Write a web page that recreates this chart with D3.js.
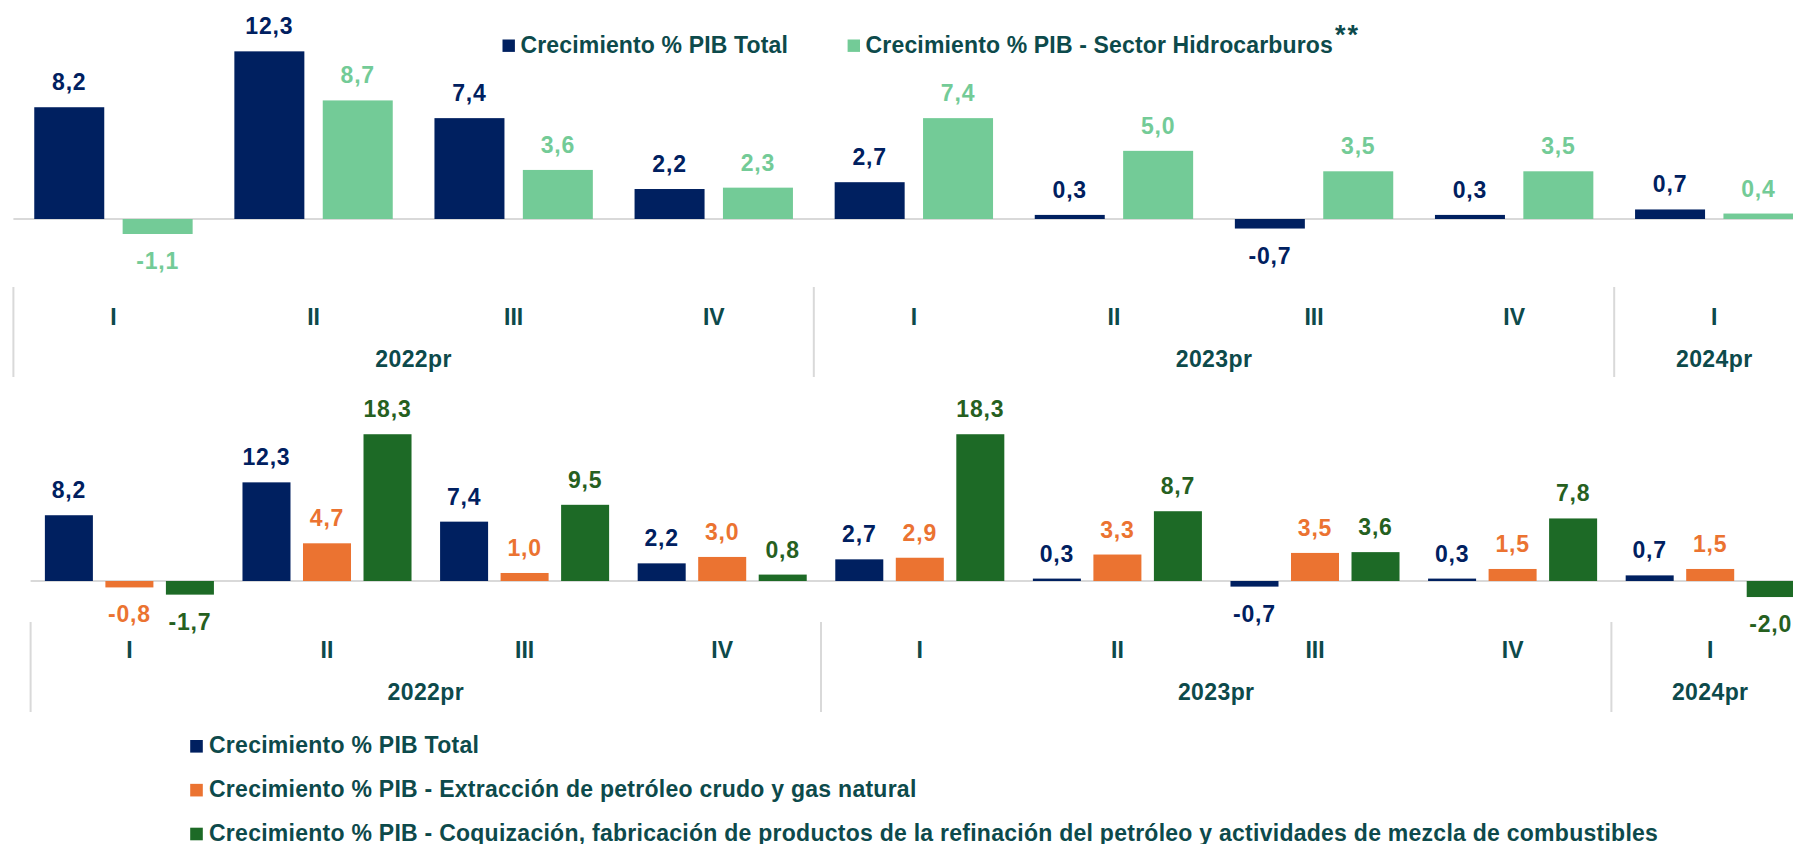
<!DOCTYPE html>
<html><head><meta charset="utf-8">
<script src="https://cdn.jsdelivr.net/npm/d3@7"></script>
<style>html,body{margin:0;padding:0;background:#fff;overflow:hidden}</style>
</head><body>
<svg id="chart" width="1793" height="844"></svg>
<script>
// ---- data ----
const quarters = ["I","II","III","IV","I","II","III","IV","I"];
const years = ["2022pr","2023pr","2024pr"];
const quartersPerYear = [4,4,1];
const pibTotal = [8.2,12.3,7.4,2.2,2.7,0.3,-0.7,0.3,0.7];
const pibHidrocarburos = [-1.1,8.7,3.6,2.3,7.4,5.0,3.5,3.5,0.4];
const pibExtraccion = [-0.8,4.7,1.0,3.0,2.9,3.3,3.5,1.5,1.5];
const pibCoquizacion = [-1.7,18.3,9.5,0.8,18.3,8.7,3.6,7.8,-2.0];
const legendTopLabels = ["Crecimiento % PIB Total","Crecimiento % PIB - Sector Hidrocarburos"];
const legendBottomLabels = [
  "Crecimiento % PIB Total",
  "Crecimiento % PIB - Extracción de petróleo crudo y gas natural",
  "Crecimiento % PIB - Coquización, fabricación de productos de la refinación del petróleo y actividades de mezcla de combustibles"
];

// ---- styles ----
const FONT = "'Liberation Sans', Arial, sans-serif";
const FS = 23;
const TEAL = "#0d4a4b";
const NAVY = "#002060", LGREEN = "#73cb97", ORANGE = "#eb7331", DGREEN = "#1d6a26";
const fmt = d3.formatLocale({decimal:",", thousands:".", grouping:[3], currency:["",""], minus:"-"}).format(".1f");

const svg = d3.select("#chart");
const W = 1793;

function panel(opts){
  const g = svg.append("g");
  const idx = d3.range(quarters.length).map(String);
  const x0 = d3.scaleBand().domain(idx).range([opts.xStart, opts.xStart + opts.step*idx.length]).paddingInner(0).paddingOuter(0);
  const x1 = d3.scaleBand().domain(opts.series.map(s=>s.key)).range([0, x0.bandwidth()])
     .paddingInner(opts.pIn).paddingOuter(opts.pOut);
  const y = d3.scaleLinear().domain(opts.yDomain).range(opts.yRange);

  // zero line
  g.append("line").attr("x1", opts.xStart).attr("x2", W+10).attr("y1", y(0)).attr("y2", y(0))
    .attr("stroke", "#d9d9d9").attr("stroke-width", 2.2);

  // bars + labels
  opts.series.forEach(s => {
    const sg = g.append("g");
    sg.selectAll("rect").data(s.values).join("rect")
      .attr("x", (d,i)=> x0(String(i)) + x1(s.key))
      .attr("width", x1.bandwidth())
      .attr("y", d => y(Math.max(0,d)))
      .attr("height", d => Math.abs(y(d)-y(0)))
      .attr("fill", s.color);
    sg.selectAll("text").data(s.values).join("text")
      .attr("x", (d,i)=> x0(String(i)) + x1(s.key) + x1.bandwidth()/2)
      .attr("y", d => d >= 0 ? y(d) - 17 : y(d) + 35)
      .attr("text-anchor","middle")
      .attr("font-family", FONT).attr("font-size", FS).attr("font-weight","bold")
      .attr("letter-spacing", 0.8)
      .attr("fill", s.labelColor || s.color)
      .text(d => fmt(d));
  });

  // quarter axis
  const ax = d3.axisBottom(x0).tickSize(0).tickPadding(0).tickFormat(i => quarters[+i]);
  const axg = g.append("g").attr("transform", `translate(0,${opts.qBaseline - FS*0.71})`).call(ax);
  axg.select(".domain").remove();
  axg.selectAll("text").attr("font-family", FONT).attr("font-size", FS).attr("font-weight","bold").attr("fill", TEAL);

  // separators and years
  let k = 0;
  years.forEach((yr, j) => {
    const start = x0(String(k));
    const end = k + quartersPerYear[j] < idx.length ? x0(String(k + quartersPerYear[j])) : x0.range()[1];
    g.append("line").attr("x1", start).attr("x2", start).attr("y1", opts.sepTop).attr("y2", opts.sepBottom)
      .attr("stroke", "#d9d9d9").attr("stroke-width", 2);
    g.append("text").attr("x", (start+end)/2).attr("y", opts.yearBaseline)
      .attr("text-anchor","middle").attr("font-family", FONT).attr("font-size", FS).attr("font-weight","bold")
      .attr("letter-spacing", 0.4)
      .attr("fill", TEAL).text(yr);
    k += quartersPerYear[j];
  });
  return g;
}

// top panel
panel({
  xStart: 13.4, step: 200.1,
  series: [{key:"total", values: pibTotal, color: NAVY},
           {key:"hidro", values: pibHidrocarburos, color: LGREEN}],
  pIn: 0.208, pOut: 0.236,
  yDomain: [-2, 14], yRange: [219 + 2*13.63, 219 - 14*13.63],
  qBaseline: 325, yearBaseline: 367, sepTop: 287, sepBottom: 377
});

// bottom panel
panel({
  xStart: 30.6, step: 197.6,
  series: [{key:"total", values: pibTotal, color: NAVY},
           {key:"extr", values: pibExtraccion, color: ORANGE},
           {key:"coq", values: pibCoquizacion, color: DGREEN, labelColor: "#26601f"}],
  pIn: 0.2066, pOut: 0.236,
  yDomain: [-3, 20], yRange: [581 + 3*8.02, 581 - 20*8.02],
  qBaseline: 658, yearBaseline: 700, sepTop: 622, sepBottom: 712
});

// top legend
const topColors = [NAVY, LGREEN];
const topLegX = [502.5, 847.6];
legendTopLabels.forEach((t, i) => {
  svg.append("rect").attr("x", topLegX[i]).attr("y", 39.5).attr("width", 12.4).attr("height", 12.4).attr("fill", topColors[i]);
  const tx = svg.append("text").attr("x", topLegX[i] + 18).attr("y", 52.7)
    .attr("font-family", FONT).attr("font-size", FS).attr("font-weight","bold").attr("fill", TEAL)
    .attr("letter-spacing", 0.15).text(t);
  if (i === 1) {
    tx.append("tspan").attr("dx", 2).attr("dy", -8.5).attr("font-size", 27).attr("letter-spacing", 2).text("**");
  }
});

// bottom legend
const botColors = [NAVY, ORANGE, DGREEN];
legendBottomLabels.forEach((t, i) => {
  const top = 740 + i*43.85;
  svg.append("rect").attr("x", 190.2).attr("y", top).attr("width", 12.6).attr("height", 12.6).attr("fill", botColors[i]);
  svg.append("text").attr("x", 209).attr("y", top + 13.3)
    .attr("font-family", FONT).attr("font-size", FS).attr("font-weight","bold").attr("fill", TEAL)
    .attr("letter-spacing", 0.26).text(t);
});
</script>
</body></html>
